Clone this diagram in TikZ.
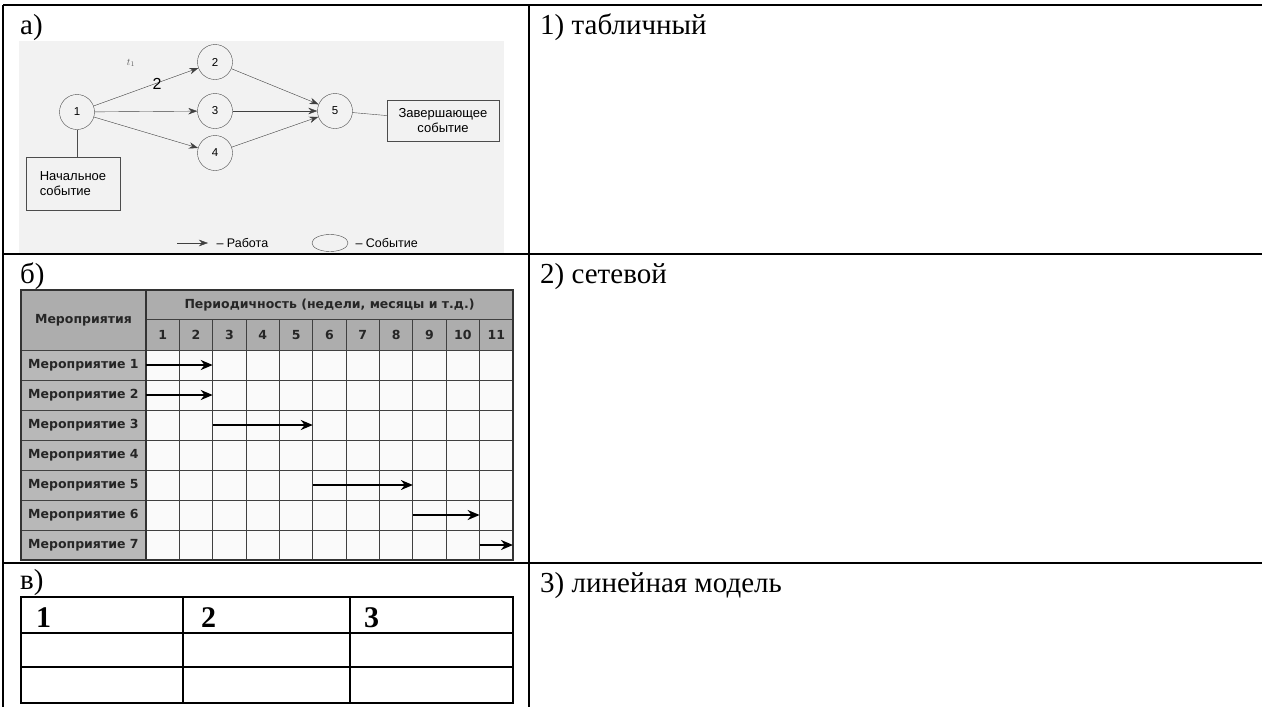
\documentclass[tikz,border=0pt]{standalone}
\usepackage{fontspec}
\setmainfont{Liberation Serif}
\newfontfamily\netfont{Liberation Sans}
\newfontfamily\ganttfont{DejaVu Sans}
\usetikzlibrary{positioning,arrows.meta,shapes.geometric}

\begin{document}
\begin{tikzpicture}[x=1pt,y=-1pt,
  lbl/.style={anchor=base west,inner sep=0pt,font=\fontsize{29}{32}\selectfont},
  ev/.style={circle,draw=black!70,thin,minimum size=35pt,inner sep=0pt,font=\netfont\fontsize{11.5}{13}\selectfont},
  box/.style={draw=black!70,thin,align=center,inner sep=0pt,font=\netfont\fontsize{13}{15}\selectfont},
  work/.style={draw=black!75,thin,-{Stealth[length=9pt,width=6.5pt]}},
  bar/.style={line width=2.5pt,-{Stealth[length=12pt,width=10pt]}},
  gtxt/.style={font=\ganttfont\bfseries\fontsize{12.5}{14}\selectfont,text=black!85,inner sep=0pt}]
\useasboundingbox (0,0) rectangle (1262,707);
% outer table
\draw[line width=1.3pt] (3,5) -- (1262,5) (3,254) -- (1262,254) (3,563) -- (1262,563);
\draw[line width=1.3pt] (3,5) -- (3,707) (529,5) -- (529,707);
\node[lbl] (la) at (20,34) {а)};
\node[lbl] (lb) at (20,283) {б)};
\node[lbl] (lc) at (20,589) {в)};
\node[lbl] (r1) at (540,34) {1) табличный};
\node[lbl] (r2) at (540,283) {2) сетевой};
\node[lbl] (r3) at (540,592) {3) линейная модель};

% a) network
\fill[gray!10] (19,41) rectangle (504,253);
\node[ev] (e1) at (77,112) {1};
\node[ev] (e2) at (215,62) {2};
\node[ev] (e3) at (215,111) {3};
\node[ev] (e4) at (215,153) {4};
\node[ev] (e5) at (335,111) {5};
\node[box,minimum width=112pt,minimum height=41pt] (fin) at (443,120.5) {Завершающее\\событие};
\node[box,minimum width=94pt,minimum height=53pt,align=left] (start) at (73,183.5) {Начальное\\событие};
\draw[work] (e1) -- (e2);
\draw[work] (e1) -- (e3);
\draw[work] (e1) -- (e4);
\draw[work] (e2) -- (e5);
\draw[work] (e3) -- (e5);
\draw[work] (e4) -- (e5);
\draw[draw=black!70,thin] (e1.south) -- (e1.south |- start.north);
\draw[draw=black!70,thin] (e5) -- (fin);
\node[font=\fontsize{10}{11}\selectfont,text=black!65] (tl) at (131,63) {$t_1$};
\node[font=\netfont\fontsize{16}{17}\selectfont] (tw) at (157,84) {2};
\coordinate (lgA) at (177,243);
\coordinate (lgB) at (208,243);
\draw[work] (lgA) -- (lgB);
\node[anchor=west,font=\netfont\fontsize{12.5}{14}\selectfont] (lgW) at (213,243) {– Работа};
\node[ellipse,draw=black!70,thin,minimum width=36pt,minimum height=17pt] (lgE) at (330,243) {};
\node[anchor=west,font=\netfont\fontsize{12.5}{14}\selectfont] (lgS) at (352,243) {– Событие};

% b) gantt chart
\fill[gray!64] (21,290) rectangle (513,350);
\fill[gray!56] (21,350) rectangle (146,560);
\fill[gray!4] (146,350) rectangle (513,560);
\draw[black!75,line width=0.9pt] (146,319) -- (513,319);
\foreach \r in {0,...,6}
  \draw[black!75,line width=0.9pt] (21,{350+30*\r}) -- (513,{350+30*\r});
\foreach \c in {1,...,10}
  \draw[black!75,line width=0.9pt] ({146+33.36*\c},319) -- ({146+33.36*\c},560);
\draw[black!80,line width=1.4pt] (146,290) -- (146,560);
\draw[black!80,line width=1.4pt] (21,290) rectangle (513,560);
\node[gtxt] (gh) at (83.5,320) {Мероприятия};
\node[gtxt] (gp) at (329.5,305) {Периодичность (недели, месяцы и т.д.)};
\foreach \c in {1,...,11}
  \node[gtxt] (gn\c) at ({146+33.36*\c-16.68},335) {\c};
\foreach \r in {1,...,7}{
  \node[gtxt,anchor=west] (gr\r) at (28,{335+30*\r}) {Мероприятие \r};
  \foreach \c in {0,...,11}
    \coordinate (g\r-\c) at ({146+33.36*\c},{335+30*\r});
}
\draw[bar] (g1-0) -- (g1-2);
\draw[bar] (g2-0) -- (g2-2);
\draw[bar] (g3-2) -- (g3-5);
\draw[bar,line width=1.4pt] (g5-5) -- (g5-8);
\draw[bar] (g6-8) -- (g6-10);
\draw[bar] (g7-10) -- (g7-11);

% c) answer table
\draw[line width=1.2pt] (21,597) rectangle (513,703);
\draw[line width=1.2pt] (21,633) -- (513,633) (21,667) -- (513,667) (183,597) -- (183,703) (350,597) -- (350,703);
\node[lbl,font=\bfseries\fontsize{30}{32}\selectfont] (t1) at (36,627) {1};
\node[lbl,font=\bfseries\fontsize{30}{32}\selectfont] (t2) at (201,627) {2};
\node[lbl,font=\bfseries\fontsize{30}{32}\selectfont] (t3) at (364,627) {3};
\end{tikzpicture}
\end{document}
